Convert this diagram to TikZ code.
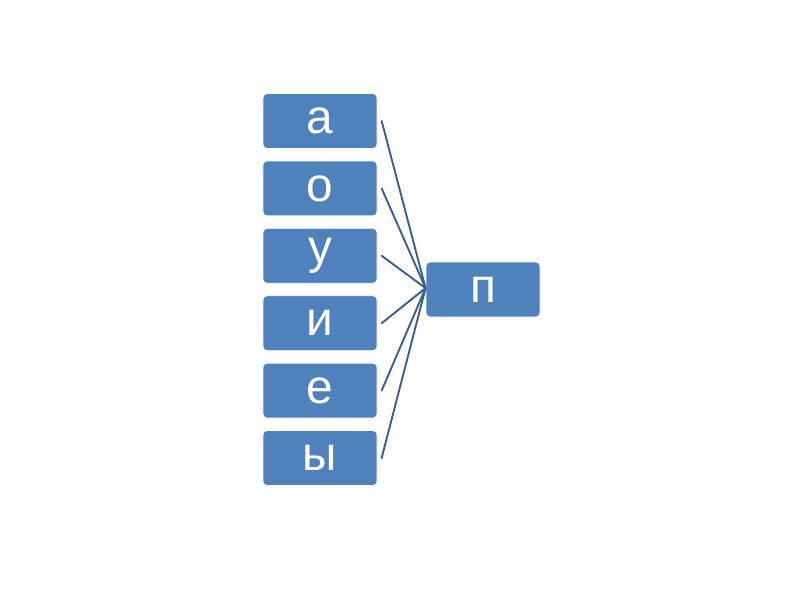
\documentclass[tikz,border=0pt]{standalone}
\usepackage{fontspec}
\setmainfont{Liberation Sans}
\definecolor{Bx}{RGB}{79, 129, 189}
\definecolor{Ln}{RGB}{58, 95, 143}

\begin{document}
\begin{tikzpicture}[x=0.025cm, y=-0.025cm, line cap=round, line join=round,
  box/.style={draw=white, line width=0.6pt, fill=Bx, text=white, rounded corners=0.1cm,
    minimum width=2.85cm, minimum height=1.375cm, inner sep=0pt,
    font=\fontsize{34}{36}\selectfont},
  link/.style={draw=Ln, line width=1.35pt}]
  \useasboundingbox[fill=white] (0,0) rectangle (800,600);

  % Vowels array
  \def\vowels#1{\ifcase#1 а\or о\or у\or и\or е\or ы\fi}

  \node[box] (p) at (483,289.5) {п};

  \foreach \i in {0,...,5}{
    \pgfmathsetmacro{\yy}{121+67.4*\i}
    \node[box] (v\i) at (320,\yy) {\vowels{\i}};
    \draw[link] ([xshift=3pt]v\i.east) -- ([yshift=1pt]p.west);
  }

\end{tikzpicture}
\end{document}
